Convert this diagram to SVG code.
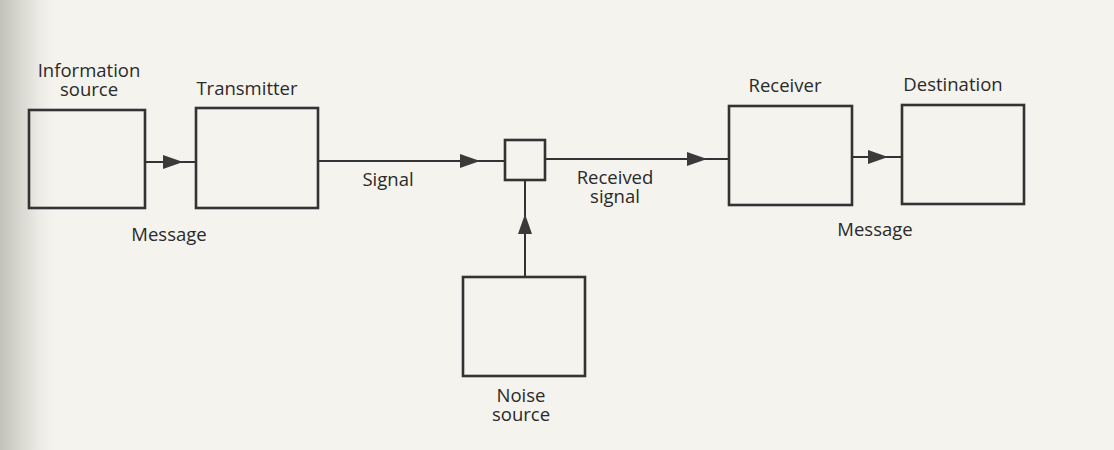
<svg xmlns="http://www.w3.org/2000/svg" width="1114" height="450" viewBox="0 0 1114 450">
  <defs>
    <linearGradient id="shade" x1="0" y1="0" x2="1" y2="0">
      <stop offset="0" stop-color="#c2c2bb"/>
      <stop offset="0.5" stop-color="#e2e1da"/>
      <stop offset="1" stop-color="#f4f3ed" stop-opacity="0"/>
    </linearGradient>
    <marker id="arr" viewBox="0 0 20 14" refX="20" refY="7" markerWidth="20" markerHeight="14" markerUnits="userSpaceOnUse" orient="auto">
      <path d="M0 0 L20 7 L0 14 Z" fill="#3a3a3a"/>
    </marker>
    <style>
      .box { fill: none; stroke: #333; stroke-width: 2.6; }
      .ln { fill: none; stroke: #333; stroke-width: 2; marker-mid: url(#arr); }
      .lbl { font-family: "Open Sans", "Noto Sans", sans-serif; font-size: 18.5px; fill: #2a2a2a; text-anchor: middle; }
    </style>
  </defs>
  <rect x="0" y="0" width="1114" height="450" fill="#f4f3ed"/>
  <rect x="0" y="0" width="60" height="450" fill="url(#shade)"/>

  <g id="connectors">
    <path class="ln" d="M145 162 L183 162 L196 162"/>
    <path class="ln" d="M318 161 L480 161 L505 161"/>
    <path class="ln" d="M545 159 L707 159 L729 159"/>
    <path class="ln" d="M852 157 L888 157 L902 157"/>
    <path class="ln" d="M525 277 L525 214 L525 181"/>
  </g>

  <g id="information-source">
    <rect class="box" x="29" y="110" width="116" height="98"/>
    <text class="lbl" x="89" y="77">Information</text>
    <text class="lbl" x="89" y="96">source</text>
  </g>
  <g id="transmitter">
    <rect class="box" x="196" y="108" width="122" height="100"/>
    <text class="lbl" x="247" y="95">Transmitter</text>
  </g>
  <g id="mixer">
    <rect class="box" x="505" y="140" width="40" height="40"/>
  </g>
  <g id="receiver">
    <rect class="box" x="729" y="106" width="123" height="99"/>
    <text class="lbl" x="785" y="92">Receiver</text>
  </g>
  <g id="destination">
    <rect class="box" x="902" y="105" width="122" height="99"/>
    <text class="lbl" x="953" y="91">Destination</text>
  </g>
  <g id="noise-source">
    <rect class="box" x="463" y="277" width="122" height="99"/>
    <text class="lbl" x="521" y="402">Noise</text>
    <text class="lbl" x="521" y="421">source</text>
  </g>

  <g id="labels">
    <text class="lbl" x="169" y="241">Message</text>
    <text class="lbl" x="388" y="186">Signal</text>
    <text class="lbl" x="615" y="184">Received</text>
    <text class="lbl" x="615" y="203">signal</text>
    <text class="lbl" x="875" y="236">Message</text>
  </g>
</svg>
